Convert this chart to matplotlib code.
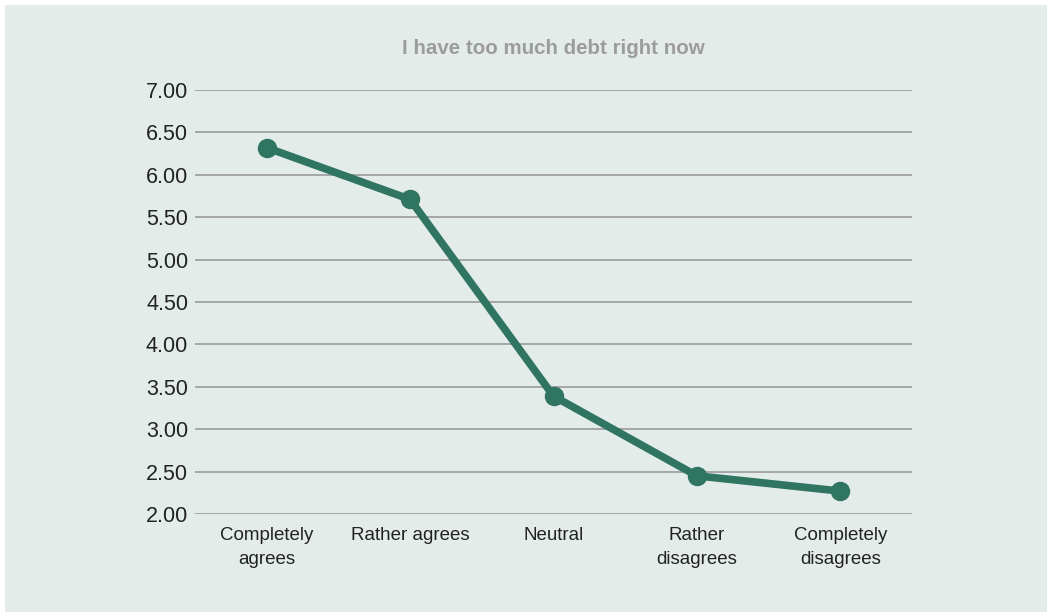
import matplotlib
matplotlib.use("Agg")
import matplotlib.pyplot as plt
from matplotlib.patches import Rectangle

# Данные
categories = ["Completely\nagrees", "Rather agrees", "Neutral", "Rather\ndisagrees", "Completely\ndisagrees"]
values = [6.32, 5.71, 3.39, 2.45, 2.27]
yticks = [2.00, 2.50, 3.00, 3.50, 4.00, 4.50, 5.00, 5.50, 6.00, 6.50, 7.00]

bg = "#e4ecea"
green = "#2f7561"

plt.rcParams["font.family"] = ["Liberation Sans", "DejaVu Sans"]

W, H = 1049, 614
fig = plt.figure(figsize=(W / 100, H / 100), dpi=100)
fig.patch.set_facecolor("white")
# фон с тонкой белой рамкой
fig.patches.append(Rectangle((5 / W, 2 / H), (W - 7) / W, (H - 7) / H,
                             transform=fig.transFigure, facecolor=bg,
                             edgecolor="none", zorder=-1))

ax = fig.add_axes([195 / W, (H - 514) / H, (912 - 195) / W, (514 - 90) / H])
ax.patch.set_alpha(0)

x = [i + 0.5 for i in range(len(categories))]
ax.plot(x, values, color=green, linewidth=5.5, marker="o", markersize=13,
        solid_capstyle="round", zorder=3, clip_on=False)

ax.set_xlim(0, len(categories))
ax.set_ylim(2.0, 7.0)
ax.set_yticks(yticks)
ax.set_yticklabels([f"{v:.2f}" for v in yticks], fontsize=15.5, color="#222222")
ax.set_xticks(x)
ax.set_xticklabels(categories, fontsize=13.5, color="#222222", linespacing=1.55)
ax.tick_params(axis="both", length=0)
ax.tick_params(axis="y", pad=5)
ax.tick_params(axis="x", pad=9)

ax.grid(axis="y", color="#9a9a9a", linewidth=1.2)
ax.set_axisbelow(True)
for s in ax.spines.values():
    s.set_visible(False)

fig.text(553 / W, 1 - 48 / H, "I have too much debt right now", ha="center", va="center",
         fontsize=14.8, fontweight="bold", color="#9c9c9c")

fig.savefig("out.png", dpi=100, facecolor=fig.get_facecolor())
